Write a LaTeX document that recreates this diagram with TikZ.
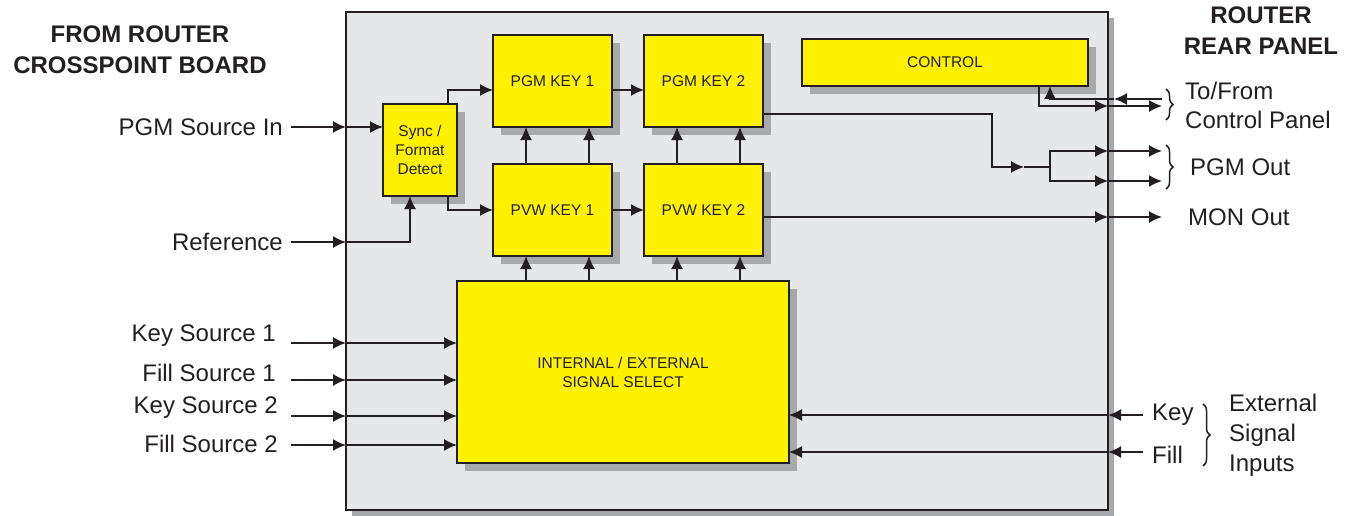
\documentclass[tikz,border=0pt]{standalone}
\usepackage{fontspec}
\setmainfont{Liberation Sans}
\usetikzlibrary{arrows.meta,shadows,decorations.pathreplacing,calc}
\definecolor{panel}{HTML}{E6E7E8}
\definecolor{ylw}{HTML}{FFF200}
\definecolor{shgray}{HTML}{A7A9AC}
\definecolor{ink}{HTML}{231F20}
\begin{document}
\begin{tikzpicture}[x=1pt,y=-1pt,
  sig/.style={draw=ink,line width=1.7pt,-{Latex[length=13pt,width=12pt]}},
  wire/.style={draw=ink,line width=1.7pt},
  blk/.style={draw=ink,line width=2pt,fill=ylw,inner sep=0pt,outer sep=0pt,align=center,
    font=\fontsize{15.5}{19}\selectfont,text=ink,
    drop shadow={shadow xshift=8pt,shadow yshift=-8pt,fill=shgray,opacity=1}},
  lbl/.style={text=ink,font=\fontsize{24}{29}\selectfont,inner sep=0pt},
  head/.style={text=ink,font=\fontsize{24}{31}\bfseries\selectfont,align=center,inner sep=0pt},
  brc/.style={draw=ink,line width=1.5pt,decorate,decoration={brace,amplitude=7pt}}]
\useasboundingbox (0,0) rectangle (1351,516);
% board
\node[draw=ink,line width=1.7pt,fill=panel,minimum width=762pt,minimum height=498pt,inner sep=0pt,outer sep=0pt,
  drop shadow={shadow xshift=6pt,shadow yshift=-6pt,fill=shgray,opacity=1}] (board) at (727,261) {};
% blocks
\node[blk,minimum width=119pt,minimum height=92pt] (pgm1) at (552.5,81) {PGM KEY 1};
\node[blk,minimum width=119pt,minimum height=92pt] (pgm2) at (703.5,81) {PGM KEY 2};
\node[blk,minimum width=119pt,minimum height=92pt] (pvw1) at (552.5,210) {PVW KEY 1};
\node[blk,minimum width=119pt,minimum height=92pt] (pvw2) at (703.5,210) {PVW KEY 2};
\node[blk,minimum width=74pt,minimum height=92pt] (sync) at (420,150) {Sync /\\Format\\Detect};
\node[blk,minimum width=286pt,minimum height=47pt] (ctrl) at (945,62.5) {CONTROL};
\node[blk,minimum width=332pt,minimum height=182pt] (ies) at (623,372) {INTERNAL / EXTERNAL\\SIGNAL SELECT};
% headings
\node[head] (hl) at (140,50) {FROM ROUTER\\CROSSPOINT BOARD};
\node[head] (hr) at (1261,31) {ROUTER\\REAR PANEL};
% left labels
\node[lbl,anchor=east] (lpgm) at (283,127) {PGM Source In};
\node[lbl,anchor=east] (lref) at (283,242) {Reference};
\node[lbl,anchor=east] (lk1) at (276,336) {Key Source 1};
\node[lbl,anchor=east] (lf1) at (276,373) {Fill Source 1};
\node[lbl,anchor=east] (lk2) at (278,408) {Key Source 2};
\node[lbl,anchor=east] (lf2) at (278,444) {Fill Source 2};
% right labels
\node[lbl,anchor=west,align=left] (ltf) at (1185,105) {To/From\\Control Panel};
\node[lbl,anchor=west] (lpo) at (1190,167) {PGM Out};
\node[lbl,anchor=west] (lmo) at (1188,217) {MON Out};
\node[lbl,anchor=west] (lkey) at (1152,415) {Key};
\node[lbl,anchor=west] (lfill) at (1152,455) {Fill};
\node[lbl,anchor=west,align=left,font=\fontsize{24}{30}\selectfont] (lext) at (1229,435) {External\\Signal\\Inputs};
% input coordinates
\coordinate (iP) at (291,127);
\coordinate (iR) at (291,242);
\coordinate (iK1) at (291,343);
\coordinate (iF1) at (291,380);
\coordinate (iK2) at (291,416);
\coordinate (iF2) at (291,445);
% PGM source
\draw[sig] (iP) -- (iP -| board.west);
\draw[sig] (iP -| board.west) -- (iP -| sync.west);
% reference
\draw[sig] (iR) -- (iR -| board.west);
\draw[sig] (iR -| board.west) -| (410,0 |- sync.south);
% sync outputs
\draw[sig] (448,0 |- sync.north) |- (pgm1.west |- 0,90);
\draw[sig] (448,0 |- sync.south) |- (pvw1.west |- 0,210);
% key chains
\draw[sig] (pgm1.east |- 0,90) -- (pgm2.west |- 0,90);
\draw[sig] (pvw1.east |- 0,210) -- (pvw2.west |- 0,210);
\foreach \x in {526,589}{
  \draw[sig] (\x,0 |- pvw1.north) -- (\x,0 |- pgm1.south);
  \draw[sig] (\x,0 |- ies.north) -- (\x,0 |- pvw1.south);
}
\foreach \x in {677,740}{
  \draw[sig] (\x,0 |- pvw2.north) -- (\x,0 |- pgm2.south);
  \draw[sig] (\x,0 |- ies.north) -- (\x,0 |- pvw2.south);
}
% left source inputs
\foreach \c in {iK1,iF1,iK2,iF2}{
  \draw[sig] (\c) -- (\c -| board.west);
  \draw[sig] (\c -| board.west) -- (\c -| ies.west);
}
% PGM out
\coordinate (mid) at (1024,167);
\coordinate (split) at (1050,167);
\draw[sig] (pgm2.east |- 0,114) -| (992,167) -- (mid);
\draw[wire] (mid) -- (split);
\draw[sig] (split) |- (board.east |- 0,151);
\draw[sig] (split) |- (board.east |- 0,181);
\coordinate (oP1) at (1162,151);
\coordinate (oP2) at (1162,181);
\draw[sig] (oP1 -| board.east) -- (oP1);
\draw[sig] (oP2 -| board.east) -- (oP2);
% MON out
\coordinate (oM) at (1162,217);
\draw[sig] (pvw2.east |- oM) -- (oM -| board.east);
\draw[sig] (oM -| board.east) -- (oM);
% control
\coordinate (oC) at (1162,106);
\coordinate (iC) at (1162,99);
\draw[sig] (1039,0 |- ctrl.south) |- (oC -| board.east);
\draw[sig] (oC -| board.east) -- (oC);
\draw[sig] (iC) -- ([xshift=6pt]iC -| board.east);
\draw[sig] ([xshift=6pt]iC -| board.east) -| (1050,0 |- ctrl.south);
% external key/fill
\coordinate (eK) at (1143,415);
\coordinate (eF) at (1143,452);
\draw[sig] (eK) -- (eK -| board.east);
\draw[sig] (eK -| board.east) -- (eK -| ies.east);
\draw[sig] (eF) -- (eF -| board.east);
\draw[sig] (eF -| board.east) -- (eF -| ies.east);
% braces
\draw[brc] (1166,89) -- (1166,120);
\draw[brc] (1166,145) -- (1166,189);
\draw[brc] (1203,404) -- (1203,466);
\end{tikzpicture}
\end{document}
